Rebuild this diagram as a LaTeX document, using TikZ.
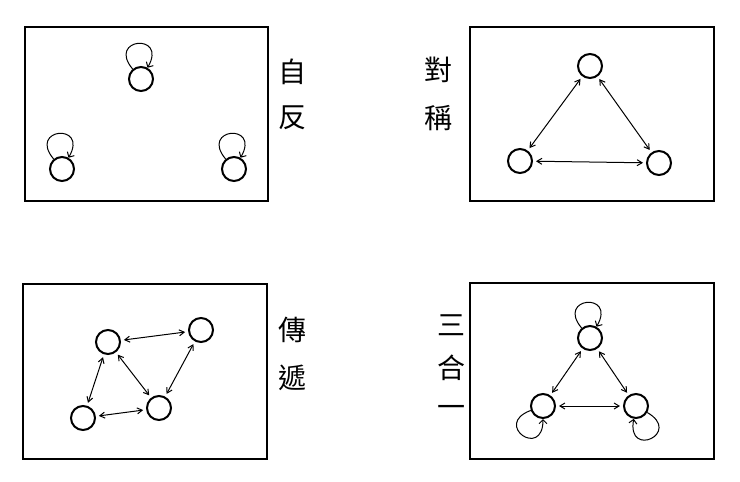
\documentclass[tikz,border=0pt]{standalone}
\usepackage{fontspec}
\newfontfamily\cjk{Noto Sans CJK TC}
\usetikzlibrary{arrows.meta}
\begin{document}
\begin{tikzpicture}[x=1pt,y=-1pt,
  box/.style={draw,line width=2pt},
  pt/.style={circle,draw,line width=2pt,minimum size=24pt,inner sep=0pt},
  arr/.style={{Straight Barb[length=5pt,width=6pt]}-{Straight Barb[length=5pt,width=6pt]},line width=1pt,shorten <=3pt,shorten >=3pt},
  lp/.style={-{Straight Barb[length=4pt]},line width=1pt,looseness=7,min distance=20pt},
  lab/.style={font=\cjk\fontsize{28}{28}\selectfont,inner sep=0pt}]
\useasboundingbox (0,0) rectangle (740,482);
\draw[box] (25,27) rectangle (268,201);
\draw[box] (470,27) rectangle (714,201);
\draw[box] (23,284) rectangle (267,459);
\draw[box] (470,283) rectangle (714,459);
% box1
\node[pt] (a1) at (141,79) {};
\node[pt] (a2) at (62,169) {};
\node[pt] (a3) at (234,169) {};
\draw[lp] (a1) to[out=130,in=60] (a1);
\draw[lp] (a2) to[out=130,in=60] (a2);
\draw[lp] (a3) to[out=130,in=60] (a3);
\node[lab] (t1) at (292,72) {自};
\node[lab] (t2) at (292,118) {反};
% box2
\node[pt] (b1) at (590,66) {};
\node[pt] (b2) at (520,161) {};
\node[pt] (b3) at (659,163) {};
\draw[arr] (b1) -- (b2);
\draw[arr] (b1) -- (b3);
\draw[arr] (b2) -- (b3);
\node[lab] (t3) at (438,70) {對};
\node[lab] (t4) at (438,118) {稱};
% box3
\node[pt] (c1) at (108,342) {};
\node[pt] (c2) at (201,330) {};
\node[pt] (c3) at (83,418) {};
\node[pt] (c4) at (159,408) {};
\draw[arr] (c1) -- (c2);
\draw[arr] (c1) -- (c3);
\draw[arr] (c1) -- (c4);
\draw[arr] (c2) -- (c4);
\draw[arr] (c3) -- (c4);
\node[lab] (t5) at (292,330) {傳};
\node[lab] (t6) at (292,378) {遞};
% box4
\node[pt] (d1) at (590,338) {};
\node[pt] (d2) at (543,406) {};
\node[pt] (d3) at (636,406) {};
\draw[arr] (d1) -- (d2);
\draw[arr] (d1) -- (d3);
\draw[arr] (d2) -- (d3);
\draw[lp] (d1) to[out=130,in=60] (d1);
\draw[lp] (d2) to[out=200,in=270] (d2);
\draw[lp] (d3) to[out=330,in=260] (d3);
\node[lab] (t7) at (451,325) {三};
\node[lab] (t8) at (451,368) {合};
\node[lab] (t9) at (451,411) {一};
\end{tikzpicture}
\end{document}
